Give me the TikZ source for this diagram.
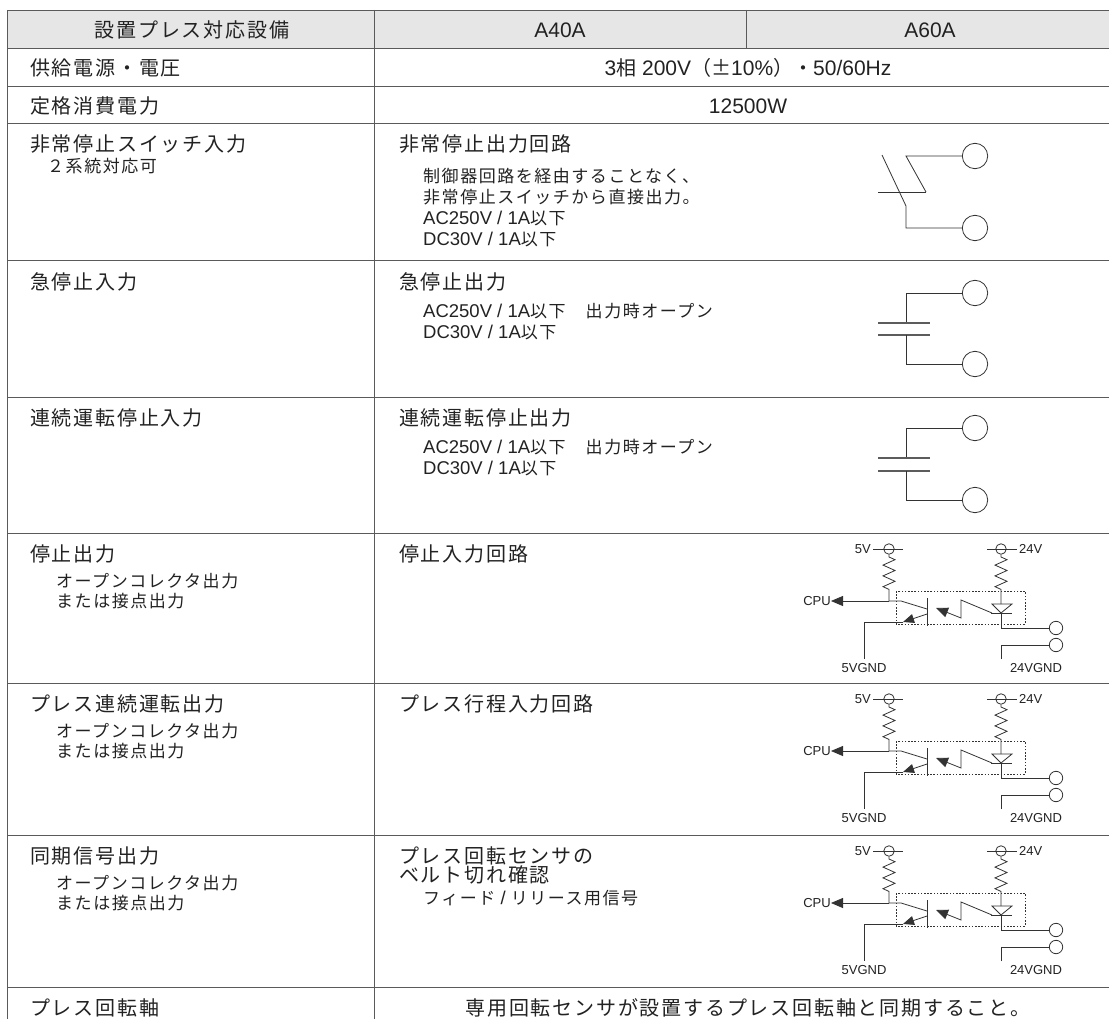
\documentclass[tikz,border=0pt]{standalone}
\usepackage{fontspec}
\setmainfont{Noto Sans CJK JP}
\newfontfamily\jpM[LetterSpace=9]{Noto Sans CJK JP}
\newfontfamily\jpS[LetterSpace=9]{Noto Sans CJK JP}
\newfontfamily\jpP{Noto Sans CJK JP}
\newfontfamily\lat{Liberation Sans}
\usetikzlibrary{arrows.meta}
\definecolor{txt}{HTML}{222222}
\definecolor{rulec}{HTML}{5A5A5A}
\definecolor{hdr}{HTML}{E6E6E7}
\definecolor{wire}{HTML}{333333}
\newcommand\LM[1]{{\fontsize{21}{22}\lat #1}}
\newcommand\LS[1]{{\fontsize{18.5}{20}\lat #1}}
\tikzset{
  mainT/.style={anchor=west,inner sep=0pt,text=txt,font=\fontsize{20}{21}\jpM},
  subT/.style={anchor=west,inner sep=0pt,text=txt,font=\fontsize{17}{18}\jpS},
  ctrT/.style={anchor=center,inner sep=0pt,text=txt,font=\fontsize{20}{21}\jpM},
  lab/.style={inner sep=0pt,text=txt,font=\fontsize{13}{14}\lat},
  wire/.style={draw=wire,line width=0.8pt},
  rl/.style={draw=rulec,line width=1pt},
  term/.style={circle,draw=wire,line width=0.8pt,fill=white,minimum size=25.4pt,inner sep=0pt},
  smallterm/.style={circle,draw=wire,line width=0.8pt,fill=white,minimum size=13.4pt,inner sep=0pt},
  vc/.style={circle,draw=wire,line width=0.8pt,minimum size=10.5pt,inner sep=0pt},
  plate/.style={draw=wire!80,line width=1.3pt},
  dbox/.style={draw=wire,line width=0.6pt,dash pattern=on 1.6pt off 1.6pt},
  tip/.style={-{Triangle[length=12pt,width=10pt]}}
}
\newcommand\opto[2]{%
\begin{scope}[shift={(0,#1)},name prefix=#2-]
  \draw[wire] (873,16) -- (903,16);
  \node[vc] (p5) at (889,16) {};
  \node[lab,anchor=east] (l5) at (871,16) {5V};
  \draw[wire] (987,16) -- (1017,16);
  \node[vc] (p24) at (1001,16) {};
  \node[lab,anchor=west] (l24) at (1019,16) {24V};
  \coordinate (j5) at (889,68);
  \draw[wire] (p5.south) -- (889,24) --++(6,2.7) --++(-12,5.4) --++(12,5.4) --++(-12,5.4) --++(12,5.4) --++(-12,5.4) --++(6,2.7) -- (j5);
  \node[lab,anchor=east] (cpu) at (831,68) {CPU};
  \draw[wire,tip] (j5) -- (cpu.east);
  \draw[wire] (j5) -- (901,68) -- (927,76);
  \draw[wire] (927,65) -- (927,93);
  \draw[wire,-{Triangle[length=11pt,width=9pt]}] (927,81) -- (903,89);
  \node[lab] (g5) at (864,135) {5VGND};
  \draw[wire] (903,89) -- (864,89) -- (864,126);
  \draw[dbox] (896,58) rectangle (1025,91);
  \draw[wire,tip] (992,80) -- (961,67) -- (961,85) -- (936,75);
  \draw[wire] (992,71) -- (1012,71) -- (1001,80) -- cycle;
  \draw[wire] (991,80) -- (1012,80);
  \draw[wire] (p24.south) -- (1001,24) --++(6,2.7) --++(-12,5.4) --++(12,5.4) --++(-12,5.4) --++(12,5.4) --++(-12,5.4) --++(6,2.7) -- (1001,71);
  \node[smallterm] (t1) at (1056,95) {};
  \node[smallterm] (t2) at (1056,112) {};
  \draw[wire] (1001,80) -- (1001,95) -- (t1.west);
  \draw[wire] (1001,126) -- (1001,112) -- (t2.west);
  \node[lab] (g24) at (1036,135) {24VGND};
\end{scope}}
\begin{document}
\begin{tikzpicture}[x=1pt,y=-1pt]
\useasboundingbox (0,0) rectangle (1109,1019);
\fill[white] (0,0) rectangle (1109,1019);
\fill[hdr] (7,11) rectangle (1109,49);
\foreach \yy in {11,49,87,124,261,397,533,683,835,987} {\draw[rl] (7,\yy) -- (1109,\yy);}
\draw[rl] (7,11) -- (7,1019);
\draw[rl] (374,11) -- (374,1019);
\draw[rl] (746,11) -- (746,49);
% header
\node[ctrT] (h1) at (192,30) {設置プレス対応設備};
\node[ctrT] (h2) at (560,30) {\LM{A40A}};
\node[ctrT] (h3) at (930,30) {\LM{A60A}};
% row 2,3
\node[mainT] (r2a) at (30,68) {供給電源・電圧};
\node[ctrT,font=\fontsize{20}{21}\jpP] (r2b) at (748,68) {\LM{3}相\LM{ 200V}（±\LM{10\%}）・\LM{50/60Hz}};
\node[mainT] (r3a) at (30,106) {定格消費電力};
\node[ctrT] (r3b) at (748,106) {\LM{12500W}};
% row 4
\node[mainT] (r4a) at (30,144.5) {非常停止スイッチ入力};
\node[subT] (r4a1) at (47,166.5) {２系統対応可};
\node[mainT] (r4b) at (399,144.5) {非常停止出力回路};
\node[subT] (r4b1) at (423,176.5) {制御器回路を経由することなく、};
\node[subT] (r4b2) at (423,197) {非常停止スイッチから直接出力。};
\node[subT] (r4b3) at (423,218) {\LS{AC250V / 1A}以下};
\node[subT] (r4b4) at (423,239) {\LS{DC30V / 1A}以下};
% row 5
\node[mainT] (r5a) at (30,281.5) {急停止入力};
\node[mainT] (r5b) at (399,281.5) {急停止出力};
\node[subT] (r5b1) at (423,311) {\LS{AC250V / 1A}以下　出力時オープン};
\node[subT] (r5b2) at (423,332) {\LS{DC30V / 1A}以下};
% row 6
\node[mainT] (r6a) at (30,417.5) {連続運転停止入力};
\node[mainT] (r6b) at (399,417.5) {連続運転停止出力};
\node[subT] (r6b1) at (423,447) {\LS{AC250V / 1A}以下　出力時オープン};
\node[subT] (r6b2) at (423,468) {\LS{DC30V / 1A}以下};
% row 7
\node[mainT] (r7a) at (30,554) {停止出力};
\node[subT] (r7a1) at (56,581) {オープンコレクタ出力};
\node[subT] (r7a2) at (56,601) {または接点出力};
\node[mainT] (r7b) at (399,554) {停止入力回路};
% row 8
\node[mainT] (r8a) at (30,704) {プレス連続運転出力};
\node[subT] (r8a1) at (56,731) {オープンコレクタ出力};
\node[subT] (r8a2) at (56,751) {または接点出力};
\node[mainT] (r8b) at (399,704) {プレス行程入力回路};
% row 9
\node[mainT] (r9a) at (30,856) {同期信号出力};
\node[subT] (r9a1) at (56,883) {オープンコレクタ出力};
\node[subT] (r9a2) at (56,903) {または接点出力};
\node[mainT] (r9b) at (399,856) {プレス回転センサの};
\node[mainT] (r9c) at (399,875) {ベルト切れ確認};
\node[subT] (r9b1) at (423,898) {フィード\LS{ / }リリース用信号};
% row 10
\node[mainT] (r10a) at (30,1007.5) {プレス回転軸};
\node[ctrT] (r10b) at (748,1007.5) {専用回転センサが設置するプレス回転軸と同期すること。};
% switch 1 (NC)
\node[term] (s1a) at (975,156) {};
\node[term] (s1b) at (975,228) {};
\draw[wire] (s1a.west) -- (906,156) -- (926,192);
\draw[wire] (878,192) -- (926,192);
\draw[wire] (882,155) -- (906,206) -- (906,228) -- (s1b.west);
% switch 2 (NO)
\node[term] (s2a) at (975,293) {};
\node[term] (s2b) at (975,364) {};
\draw[wire] (s2a.west) -- (906,293) -- (906,323);
\draw[plate] (878,323) -- (930,323);
\draw[plate] (878,335) -- (930,335);
\draw[wire] (906,335) -- (906,364) -- (s2b.west);
% switch 3 (NO)
\node[term] (s3a) at (975,428) {};
\node[term] (s3b) at (975,500) {};
\draw[wire] (s3a.west) -- (906,428) -- (906,458);
\draw[plate] (878,458) -- (930,458);
\draw[plate] (878,471) -- (930,471);
\draw[wire] (906,471) -- (906,500) -- (s3b.west);
% opto circuits
\opto{533}{oa}
\opto{683}{ob}
\opto{835}{oc}
\end{tikzpicture}
\end{document}
